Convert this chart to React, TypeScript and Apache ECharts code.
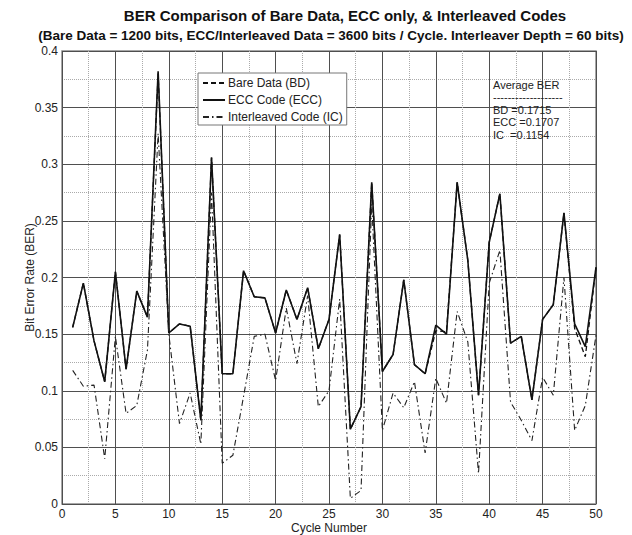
import React, { useEffect, useRef } from "react";
import * as echarts from "echarts";

const cycles = Array.from({ length: 50 }, (_, i) => i + 1);

const bareData = [
  0.156, 0.195, 0.144, 0.108, 0.205, 0.119, 0.188, 0.165, 0.38, 0.151,
  0.159, 0.157, 0.074, 0.306, 0.115, 0.115, 0.206, 0.183, 0.182, 0.151,
  0.189, 0.163, 0.191, 0.137, 0.163, 0.238, 0.066, 0.086, 0.284, 0.117,
  0.132, 0.198, 0.123, 0.115, 0.153, 0.152, 0.284, 0.215, 0.096, 0.231,
  0.274, 0.142, 0.148, 0.092, 0.163, 0.176, 0.257, 0.155, 0.13, 0.209,
];

const eccData = [
  0.156, 0.195, 0.144, 0.108, 0.205, 0.119, 0.188, 0.165, 0.382, 0.151,
  0.159, 0.157, 0.074, 0.306, 0.115, 0.115, 0.206, 0.183, 0.182, 0.151,
  0.189, 0.163, 0.191, 0.137, 0.163, 0.238, 0.066, 0.086, 0.284, 0.117,
  0.132, 0.198, 0.123, 0.115, 0.158, 0.15, 0.284, 0.215, 0.096, 0.231,
  0.274, 0.142, 0.148, 0.092, 0.163, 0.176, 0.257, 0.159, 0.139, 0.209,
];

const icData = [
  0.118, 0.104, 0.105, 0.04, 0.148, 0.08, 0.087, 0.136, 0.327, 0.15,
  0.071, 0.098, 0.053, 0.275, 0.036, 0.043, 0.095, 0.148, 0.15, 0.109,
  0.173, 0.124, 0.184, 0.086, 0.1, 0.181, 0.005, 0.012, 0.265, 0.065,
  0.098, 0.085, 0.108, 0.045, 0.111, 0.089, 0.17, 0.143, 0.027, 0.195,
  0.224, 0.09, 0.074, 0.056, 0.112, 0.096, 0.2, 0.065, 0.087, 0.149,
];

const seriesNames = ["Bare Data (BD)", "ECC Code (ECC)", "Interleaved Code (IC)"];
const titleLines = [
  "BER Comparison of Bare Data, ECC only, & Interleaved Codes",
  "(Bare Data = 1200 bits, ECC/Interleaved Data = 3600 bits / Cycle. Interleaver Depth = 60 bits)",
];
const avgLines = ["Average BER", "-------------------", "BD =0.1715", "ECC =0.1707", "IC  =0.1154"];

const FONT = "'Liberation Sans', Arial, sans-serif";

export default function App() {
  const ref = useRef<HTMLDivElement>(null);
  useEffect(() => {
    document.body.style.margin = "0";
    if (!ref.current) return;
    const chart = echarts.init(ref.current, undefined, { renderer: "svg" });
    const pair = (arr: number[]) => arr.map((v, i) => [cycles[i], v]);
    chart.setOption({
      animation: false,
      backgroundColor: "#fff",
      textStyle: { fontFamily: FONT },
      title: [
        {
          text: titleLines[0],
          left: 340,
          top: 3,
          textAlign: "center",
          textStyle: { fontSize: 15, fontWeight: "bold", color: "#111", fontFamily: FONT },
        },
        {
          text: titleLines[1],
          left: 326,
          top: 23,
          textAlign: "center",
          textStyle: { fontSize: 13.5, fontWeight: "bold", color: "#111", fontFamily: FONT },
        },
      ],
      grid: {
        left: 62,
        right: 36,
        top: 51,
        bottom: 31,
        outerBoundsMode: "none",
        containLabel: false,
        show: true,
        borderColor: "#8a8a8a",
        borderWidth: 1.5,
        backgroundColor: "#fff",
      },
      legend: {
        orient: "vertical",
        left: 198,
        top: 73,
        data: seriesNames,
        itemWidth: 22,
        itemHeight: 10,
        itemGap: 5,
        padding: [4, 4, 2, 4],
        borderColor: "#777",
        borderWidth: 1,
        backgroundColor: "#fff",
        itemStyle: { color: "rgba(0,0,0,0)", borderColor: "rgba(0,0,0,0)", borderWidth: 0, opacity: 0 },
        textStyle: { fontSize: 12, color: "#222", fontFamily: FONT, padding: [0, 0, 0, -2] },
      },
      xAxis: {
        type: "value",
        min: 0,
        max: 50,
        interval: 5,
        name: "Cycle Number",
        nameLocation: "middle",
        nameGap: 18,
        nameMoveOverlap: false,
        nameTextStyle: { fontSize: 12, color: "#222" },
        axisLine: { show: false },
        axisTick: { show: false },
        axisLabel: { fontSize: 12, color: "#222", margin: 4 },
        splitLine: { show: true, lineStyle: { color: "#4f4f4f", width: 1 } },
        minorTick: { show: false, splitNumber: 2 },
        minorSplitLine: { show: true, lineStyle: { color: "#aaaaaa", type: "dotted", width: 1 } },
      },
      yAxis: {
        type: "value",
        min: 0,
        max: 0.4,
        interval: 0.05,
        name: "Bit Error Rate (BER)",
        nameLocation: "middle",
        nameGap: 26,
        nameMoveOverlap: false,
        nameTextStyle: { fontSize: 12, color: "#222" },
        axisLine: { show: false },
        axisTick: { show: false },
        axisLabel: {
          fontSize: 12,
          color: "#222",
          margin: 4,
          formatter: (v: number) => String(parseFloat(v.toFixed(2))),
        },
        splitLine: { show: true, lineStyle: { color: "#4f4f4f", width: 1 } },
        minorTick: { show: false, splitNumber: 2 },
        minorSplitLine: { show: true, lineStyle: { color: "#aaaaaa", type: "dotted", width: 1 } },
      },
      series: [
        {
          name: seriesNames[0],
          type: "line",
          data: pair(bareData),
          symbol: "none",
          lineStyle: { color: "#111", width: 1.3, type: [5, 3] },
          itemStyle: { color: "#111" },
        },
        {
          name: seriesNames[1],
          type: "line",
          data: pair(eccData),
          symbol: "none",
          lineStyle: { color: "#111", width: 1.6, type: "solid" },
          itemStyle: { color: "#111" },
        },
        {
          name: seriesNames[2],
          type: "line",
          data: pair(icData),
          symbol: "none",
          lineStyle: { color: "#222", width: 1.1, type: [6, 3, 1.5, 3] },
          itemStyle: { color: "#222" },
        },
      ],
      graphic: avgLines.map((t, i) => ({
        type: "text",
        left: 493,
        top: [79, 91, 104, 116, 129][i],
        z: 100,
        style: {
          text: t,
          fill: "#222",
          font: `11px ${FONT}`,
        },
      })),
    });
    return () => chart.dispose();
  }, []);
  return <div ref={ref} style={{ width: 632, height: 535 }} />;
}
